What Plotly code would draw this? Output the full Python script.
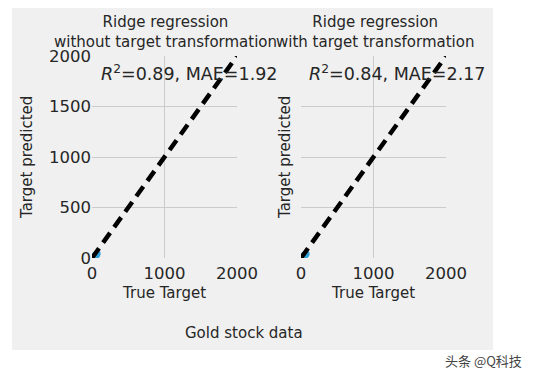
import plotly.graph_objects as go

# Data
true_target = [40, 55, 65, 70, 50]
pred_left = [20, 30, 35, 45, 25]
pred_right = [25, 32, 38, 42, 28]
ident = [0, 2000]
tick_vals = [0, 1000, 2000]
y_tick_vals = [0, 500, 1000, 1500, 2000]
titles = ["Ridge regression<br>without target transformation",
          "Ridge regression<br>with target transformation"]
scores = ["<i>R</i><sup>2</sup>=0.89, MAE=1.92",
          "<i>R</i><sup>2</sup>=0.84, MAE=2.17"]

OFF = 8  # default page body margin
W, H = 534 - OFF, 377 - OFF
FONT = "DejaVu Sans"
TXT = "#262626"

def px(x):
    return (x - OFF) / W

def py(y):
    return 1 - (y - OFF) / H

fig = go.Figure()

for i, (pred, ax) in enumerate([(pred_left, ""), (pred_right, "2")]):
    fig.add_trace(go.Scatter(x=true_target, y=pred, mode="markers",
                             marker=dict(color="#30a2da", size=7),
                             xaxis="x" + ax, yaxis="y" + ax, showlegend=False))
    fig.add_trace(go.Scatter(x=ident, y=ident, mode="lines",
                             line=dict(color="black", width=4.5, dash="12px,7px"),
                             xaxis="x" + ax, yaxis="y" + ax, showlegend=False))

axis_common = dict(range=[0, 2000], showgrid=True, gridcolor="#cbcbcb", gridwidth=1,
                   zeroline=False, showline=False, ticks="", automargin=False,
                   tickfont=dict(family=FONT, size=16.5, color=TXT))

fig.update_layout(
    template="none",
    width=W, height=H,
    margin=dict(l=0, r=0, t=0, b=0, autoexpand=False),
    paper_bgcolor="white",
    plot_bgcolor="#f0f0f0",
    xaxis=dict(domain=[px(92), px(237)], tickvals=tick_vals, anchor="y",
               ticklabelstandoff=3, **axis_common),
    yaxis=dict(domain=[py(258), py(56)], tickvals=y_tick_vals, anchor="x", **axis_common),
    xaxis2=dict(domain=[px(301), px(446)], tickvals=tick_vals, anchor="y2",
                ticklabelstandoff=3, **axis_common),
    yaxis2=dict(domain=[py(258), py(56)], tickvals=y_tick_vals, anchor="x2",
                showticklabels=False, **axis_common),
    shapes=[dict(type="rect", xref="paper", yref="paper", layer="below",
                 x0=px(12), x1=px(493), y0=py(350), y1=py(7),
                 fillcolor="#f0f0f0", line=dict(width=0))],
)

annotations = []
centers = [164.5, 373.5]
ylab_x = [27, 285]
score_x = [99, 307]
for i in range(2):
    annotations.append(dict(text=titles[i], x=px(centers[i] + 1), y=py(32.5), xref="paper", yref="paper",
                            xanchor="center", yanchor="middle", showarrow=False,
                            font=dict(family=FONT, size=15, color=TXT)))
    annotations.append(dict(text=scores[i], x=px(score_x[i]), y=py(73), xref="paper", yref="paper",
                            xanchor="left", yanchor="middle", showarrow=False,
                            font=dict(family=FONT, size=17.5, color=TXT)))
    annotations.append(dict(text="True Target", x=px(centers[i] - 1), y=py(293), xref="paper", yref="paper",
                            xanchor="center", yanchor="middle", showarrow=False,
                            font=dict(family=FONT, size=15, color=TXT)))
    annotations.append(dict(text="Target predicted", x=px(ylab_x[i]), y=py(158), xref="paper", yref="paper",
                            xanchor="center", yanchor="middle", showarrow=False, textangle=-90,
                            font=dict(family=FONT, size=15, color=TXT)))
annotations.append(dict(text="Gold stock data", x=px(244), y=py(333), xref="paper", yref="paper",
                        xanchor="center", yanchor="middle", showarrow=False,
                        font=dict(family=FONT, size=15, color=TXT)))
annotations.append(dict(text="头条 @Q科技", x=px(483), y=py(360), xref="paper", yref="paper",
                        xanchor="center", yanchor="middle", showarrow=False,
                        font=dict(family="Noto Sans CJK SC", size=13, color="#444")))
fig.update_layout(annotations=annotations)

fig.write_html("out.html")
